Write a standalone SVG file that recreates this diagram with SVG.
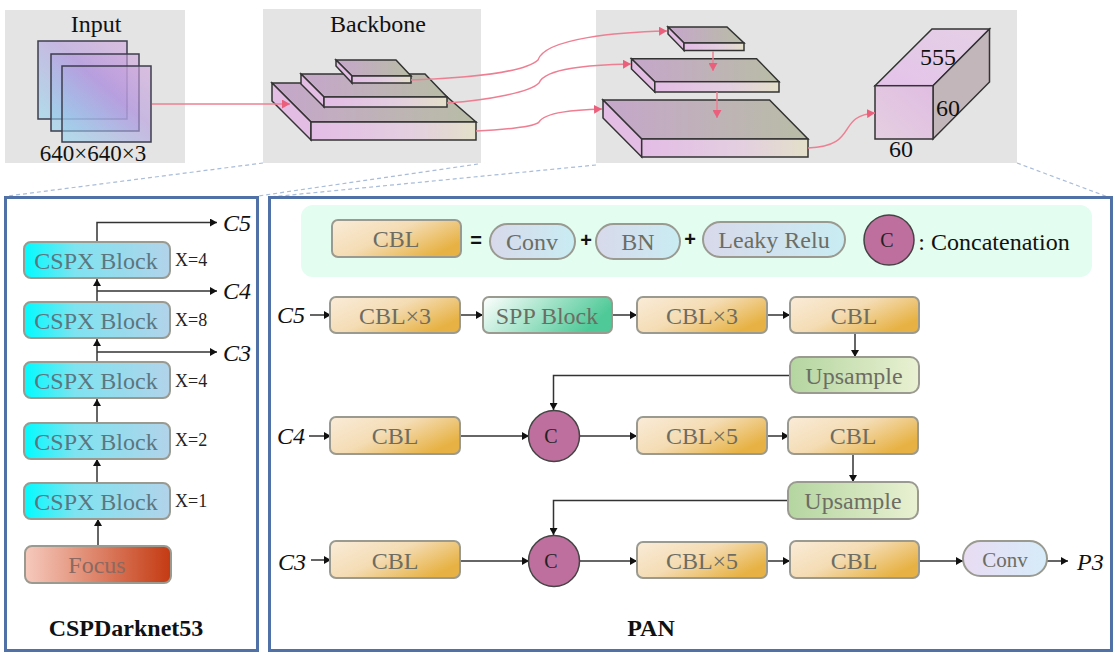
<svg xmlns="http://www.w3.org/2000/svg" width="1119" height="657" viewBox="0 0 1119 657">
<style>
text{font-family:"Liberation Serif","Times New Roman",serif;}
.panel{fill:#e4e4e4;}
.frame{fill:#fff;stroke:#4f71a8;stroke-width:3;}
.b{stroke:#9a9a90;stroke-width:2;}
.cbl{fill:url(#gCbl);}
.csp{fill:url(#gCsp);}
.pill{fill:url(#gPill);}
.up{fill:url(#gUp);}
.t{font-size:24px;fill:#6d6d64;text-anchor:middle;}
.tc{fill:#5c7680;}
.k{font-size:24px;fill:#111;text-anchor:middle;}
.i{font-size:24px;font-style:italic;fill:#111;}
.x{font-size:18px;fill:#222;}
.bold{font-size:24px;font-weight:bold;fill:#111;text-anchor:middle;}
.num{font-size:24px;fill:#111;text-anchor:middle;}
.circ{fill:#bf6f9d;stroke:#444;stroke-width:1.5;}
.ct{font-size:20px;fill:#222;text-anchor:middle;}
.sq{fill:url(#gSq);stroke:#3e3e4e;stroke-width:1.5;}
.top{fill:url(#gTop);stroke:#333;stroke-width:1.5;}
.front{fill:url(#gFront);stroke:#333;stroke-width:1.5;}
.side{fill:#e3bde3;stroke:#333;stroke-width:1.5;}
.ln{fill:none;stroke:#333;stroke-width:1.5;marker-end:url(#ah);}
.red{fill:none;stroke:#ee7f93;stroke-width:1.5;marker-end:url(#rh);}
.dash{fill:none;stroke:#a9bcd9;stroke-width:1.2;stroke-dasharray:4 3;}
.op{font-family:"Liberation Sans",Arial,sans-serif;font-size:20px;font-weight:bold;fill:#111;text-anchor:middle;}
</style>
<defs>
<linearGradient id="gCbl" x1="0" y1="0" x2="1" y2="0.6"><stop offset="0" stop-color="#faecd9"/><stop offset="0.5" stop-color="#f4dcb4"/><stop offset="1" stop-color="#e7b243"/></linearGradient>
<linearGradient id="gCsp" x1="0" y1="0" x2="1" y2="0"><stop offset="0" stop-color="#00fbff"/><stop offset="0.35" stop-color="#7fe3f0"/><stop offset="1" stop-color="#b2d3ea"/></linearGradient>
<linearGradient id="gFocus" x1="0" y1="0" x2="1" y2="0"><stop offset="0" stop-color="#f6cabd"/><stop offset="1" stop-color="#c43a12"/></linearGradient>
<linearGradient id="gSpp" x1="0" y1="0" x2="1" y2="0.3"><stop offset="0" stop-color="#ffffff"/><stop offset="1" stop-color="#4fc997"/></linearGradient>
<linearGradient id="gPill" x1="0" y1="0" x2="1" y2="0"><stop offset="0" stop-color="#d8d9ea"/><stop offset="1" stop-color="#c9ecf3"/></linearGradient>
<linearGradient id="gConv" x1="0" y1="0" x2="1" y2="0"><stop offset="0" stop-color="#e9dcf3"/><stop offset="1" stop-color="#d6ecf9"/></linearGradient>
<linearGradient id="gUp" x1="0" y1="0" x2="1" y2="0"><stop offset="0" stop-color="#b4d5a0"/><stop offset="1" stop-color="#e9f1d2"/></linearGradient>
<linearGradient id="gSq" x1="0" y1="1" x2="1" y2="0"><stop offset="0" stop-color="#8fd6ee" stop-opacity="0.6"/><stop offset="0.6" stop-color="#b49ade" stop-opacity="0.6"/><stop offset="1" stop-color="#d2a6dc" stop-opacity="0.6"/></linearGradient>
<linearGradient id="gTop" x1="0" y1="0" x2="1" y2="0"><stop offset="0" stop-color="#c6a6cb"/><stop offset="1" stop-color="#b8bda6"/></linearGradient>
<linearGradient id="gFront" x1="0" y1="0" x2="1" y2="0"><stop offset="0" stop-color="#e3bce6"/><stop offset="0.6" stop-color="#e3cfe0"/><stop offset="1" stop-color="#e3e0c9"/></linearGradient>
<linearGradient id="gCubeF" x1="0" y1="1" x2="1" y2="0"><stop offset="0" stop-color="#e5cfe0"/><stop offset="1" stop-color="#e0bde3"/></linearGradient>
<linearGradient id="gCubeT" x1="0" y1="1" x2="1" y2="0"><stop offset="0" stop-color="#e4c3ea"/><stop offset="1" stop-color="#e5d0e5"/></linearGradient>
<marker id="ah" markerUnits="userSpaceOnUse" markerWidth="8" markerHeight="8" refX="7" refY="4" orient="auto"><path d="M0 0L7 4L0 8Z" fill="#111"/></marker>
<marker id="rh" markerUnits="userSpaceOnUse" markerWidth="9" markerHeight="9" refX="8" refY="4.5" orient="auto"><path d="M0 0L8 4.5L0 9Z" fill="#ea5f7c"/></marker>
</defs>
<rect width="1119" height="657" fill="#fff"/>

<rect class="panel" x="5" y="10" width="180" height="153"/>
<rect class="panel" x="263" y="9" width="218" height="154"/>
<rect class="panel" x="596" y="10" width="421" height="153"/>
<text class="num" x="96" y="32">Input</text>
<text class="num" x="378" y="32">Backbone</text>

<g id="dashes">
<path class="dash" d="M263 163L8 196"/>
<path class="dash" d="M478 164L258 196"/>
<path class="dash" d="M596 165L270 197"/>
<path class="dash" d="M1017 163L1108 197"/>
</g>

<g id="input">
<rect class="sq" x="38" y="41" width="89" height="78"/>
<rect class="sq" x="51" y="54" width="88" height="77"/>
<rect class="sq" x="62" y="66" width="89" height="76"/>
<text class="num" x="93" y="161" style="font-size:23px">640×640×3</text>
</g>

<g id="backbone">
<path class="top" d="M272 83H431L476 122H311Z"/><path class="side" d="M272 83L311 122V140L272 101Z"/><rect class="front" x="311" y="122" width="165" height="18"/>
<path class="top" d="M301 74H425L447 97H324Z"/><path class="side" d="M301 74L324 97V107L301 84Z"/><rect class="front" x="324" y="97" width="123" height="10"/>
<path class="top" d="M336 60H396L411 76H352Z"/><path class="side" d="M336 60L352 76V83L336 66Z"/><rect class="front" x="352" y="76" width="59" height="7"/>
</g>

<g id="neck">
<path class="top" d="M668 27H727L744 43H684Z"/><path class="side" d="M668 27L684 43V50.500L668 34Z"/><rect class="front" x="684" y="43" width="60" height="7.500"/>
<path class="top" d="M631.500 58.700H756.600L779 81.700H654.800Z"/><path class="side" d="M631.500 58.700L654.800 81.700V92L631.500 69Z"/><rect class="front" x="654.800" y="81.700" width="124.200" height="10.300"/>
<path class="top" d="M603 100H769.600L808 139H641.700Z"/><path class="side" d="M603 100L641.700 139V157L603 118Z"/><rect class="front" x="641.700" y="139" width="166.300" height="18"/>
</g>

<g id="cube">
<path d="M875 85.700L932 29H989.500L933 85.700Z" fill="url(#gCubeT)" stroke="#333" stroke-width="1.500"/>
<path d="M933 85.700L989.500 29V82L933 139Z" fill="#c3b6bb" stroke="#333" stroke-width="1.500"/>
<rect x="875" y="85.700" width="58" height="53.300" fill="url(#gCubeF)" stroke="#333" stroke-width="1.500"/>
<text class="num" x="938" y="65">555</text>
<text class="num" x="948" y="116">60</text>
<text class="num" x="901" y="157">60</text>
</g>

<rect class="frame" x="5.500" y="197.500" width="252" height="453"/>
<rect class="frame" x="269.500" y="197.500" width="842" height="453"/>
<rect x="301" y="205" width="791" height="72" rx="12" fill="#e3fdf1"/>

<g id="connectors">
<path class="red" d="M152 104H290"/>
<path class="red" d="M411 80C470 78 525 72 538 60C545 38 620 32 667 31"/>
<path class="red" d="M447 103C490 100 530 92 539 83C545 68 590 65 631 64"/>
<path class="red" d="M476 131C500 130 535 127 539 122C545 112 575 110 602 109"/>
<path class="red" d="M713 51V71"/>
<path class="red" d="M717 92V118"/>
<path class="red" d="M808 148C860 146 835 116 875 113"/>
<path class="ln" d="M98 546V519"/>
<path class="ln" d="M97 483V459"/>
<path class="ln" d="M97 423V399"/>
<path class="ln" d="M97 362V339"/>
<path class="ln" d="M97 302V279"/>
<path class="ln" d="M97 242V222.500H217"/>
<path class="ln" d="M97 291H217"/>
<path class="ln" d="M97 352H217"/>
<path class="ln" d="M310 315H331"/>
<path class="ln" d="M460 315H483"/>
<path class="ln" d="M612 315H637"/>
<path class="ln" d="M767 315H790"/>
<path class="ln" d="M855 333V357"/>
<path class="ln" d="M790 375.500H553.500V410"/>
<path class="ln" d="M309 436H331"/>
<path class="ln" d="M460 436H529"/>
<path class="ln" d="M580 436H637"/>
<path class="ln" d="M767 436H789"/>
<path class="ln" d="M853 454V482"/>
<path class="ln" d="M788 500.500H553.500V535"/>
<path class="ln" d="M311 560H331"/>
<path class="ln" d="M460 561H529"/>
<path class="ln" d="M580 561H637"/>
<path class="ln" d="M767 561H790"/>
<path class="ln" d="M919 561H963"/>
<path class="ln" d="M1047 561H1068"/>
</g>

<g id="csp5"><rect class="b csp" x="24" y="242" width="146" height="36" rx="7"/><text class="t tc" x="96" y="269">CSPX Block</text><text class="x" x="175" y="266">X=4</text></g>
<g id="csp4"><rect class="b csp" x="24" y="302" width="146" height="36" rx="7"/><text class="t tc" x="96" y="329">CSPX Block</text><text class="x" x="175" y="326">X=8</text></g>
<g id="csp3"><rect class="b csp" x="24" y="362" width="146" height="36" rx="7"/><text class="t tc" x="96" y="389">CSPX Block</text><text class="x" x="175" y="387">X=4</text></g>
<g id="csp2"><rect class="b csp" x="24" y="423" width="146" height="36" rx="7"/><text class="t tc" x="96" y="450">CSPX Block</text><text class="x" x="175" y="446">X=2</text></g>
<g id="csp1"><rect class="b csp" x="24" y="483" width="146" height="36" rx="7"/><text class="t tc" x="96" y="510">CSPX Block</text><text class="x" x="175" y="507">X=1</text></g>
<g id="focus"><rect class="b" x="25" y="546" width="146" height="37" rx="7" fill="url(#gFocus)"/><text class="t" x="97" y="573" style="fill:#8a6a62">Focus</text></g>

<g id="side-labels">
<text class="i" x="223" y="231">C5</text>
<text class="i" x="223" y="299">C4</text>
<text class="i" x="223" y="361">C3</text>
<text class="bold" x="126" y="636">CSPDarknet53</text>
<text class="bold" x="651" y="636">PAN</text>
<text class="i" x="277" y="323">C5</text>
<text class="i" x="277" y="444">C4</text>
<text class="i" x="278" y="570">C3</text>
<text class="i" x="1077" y="570">P3</text>
</g>

<g id="legend">
<rect class="b cbl" x="332" y="220" width="129" height="37" rx="6"/><text class="t" x="396" y="247">CBL</text>
<text class="op" x="476" y="247">=</text>
<rect class="b pill" x="490" y="224" width="85" height="35" rx="17.500"/><text class="t" x="532" y="250">Conv</text>
<text class="op" x="586" y="247">+</text>
<rect class="b pill" x="596" y="224" width="84" height="35" rx="17.500"/><text class="t" x="638" y="250">BN</text>
<text class="op" x="690" y="246">+</text>
<rect class="b pill" x="703" y="222" width="142" height="35" rx="17.500"/><text class="t" x="774" y="248">Leaky Relu</text>
<circle class="circ" cx="889" cy="240" r="25"/><text class="ct" x="887" y="247">C</text>
<text class="k" x="994" y="250">: Concatenation</text>
</g>

<g id="r1a"><rect class="b cbl" x="330" y="297" width="130" height="36" rx="6"/><text class="t" x="395" y="324">CBL×3</text></g>
<g id="spp"><rect class="b" x="483" y="297" width="129" height="36" rx="6" fill="url(#gSpp)"/><text class="t" x="547" y="324">SPP Block</text></g>
<g id="r1b"><rect class="b cbl" x="637" y="297" width="130" height="36" rx="6"/><text class="t" x="702" y="324">CBL×3</text></g>
<g id="r1c"><rect class="b cbl" x="790" y="297" width="129" height="36" rx="6"/><text class="t" x="854" y="324">CBL</text></g>
<g id="up1"><rect class="b up" x="790" y="357" width="129" height="36" rx="9"/><text class="t" x="854" y="384">Upsample</text></g>

<g id="r2a"><rect class="b cbl" x="330" y="417" width="130" height="37" rx="6"/><text class="t" x="395" y="444">CBL</text></g>
<g id="c1"><circle class="circ" cx="554" cy="436" r="25.500"/><text class="ct" x="551" y="443">C</text></g>
<g id="r2b"><rect class="b cbl" x="637" y="417" width="130" height="37" rx="6"/><text class="t" x="702" y="444">CBL×5</text></g>
<g id="r2c"><rect class="b cbl" x="788" y="417" width="130" height="37" rx="6"/><text class="t" x="853" y="444">CBL</text></g>
<g id="up2"><rect class="b up" x="788" y="482" width="130" height="37" rx="9"/><text class="t" x="853" y="509">Upsample</text></g>

<g id="r3a"><rect class="b cbl" x="330" y="541" width="130" height="37" rx="6"/><text class="t" x="395" y="569">CBL</text></g>
<g id="c2"><circle class="circ" cx="554" cy="561" r="25.500"/><text class="ct" x="551" y="568">C</text></g>
<g id="r3b"><rect class="b cbl" x="637" y="542" width="130" height="36" rx="6"/><text class="t" x="702" y="569">CBL×5</text></g>
<g id="r3c"><rect class="b cbl" x="790" y="541" width="129" height="37" rx="6"/><text class="t" x="854" y="569">CBL</text></g>
<g id="conv"><rect class="b" x="963" y="541" width="84" height="35" rx="17.500" fill="url(#gConv)"/><text class="t" x="1005" y="567" style="font-size:21px">Conv</text></g>
</svg>
